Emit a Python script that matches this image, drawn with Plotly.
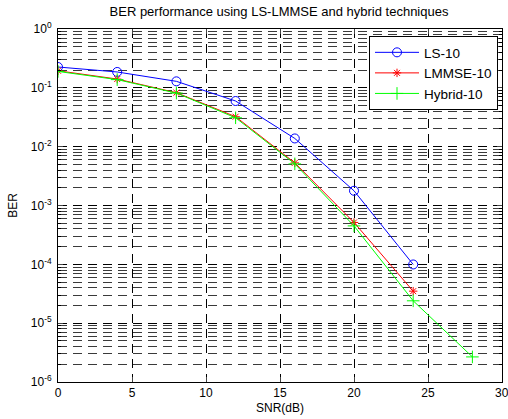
import plotly.graph_objects as go

# SNR points (dB)
snr_ls = [0, 4, 8, 12, 16, 20, 24]
snr_lmmse = [0, 4, 8, 12, 16, 20, 24]
snr_hybrid = [0, 4, 8, 12, 16, 20, 24, 28]

# Bit error rates
ber_ls = [0.226, 0.186, 0.129, 0.0597, 0.0138, 0.00178, 9.95e-5]
ber_lmmse = [0.195, 0.141, 0.0826, 0.0323, 0.0053, 5.15e-4, 3.5e-5]
ber_hybrid = [0.190, 0.138, 0.0815, 0.0310, 0.0051, 4.5e-4, 2.4e-5, 2.67e-6]

# Axis ticks
x_ticks = [0, 5, 10, 15, 20, 25, 30]
x_ticktext = [str(v) for v in x_ticks]
y_exponents = [0, -1, -2, -3, -4, -5, -6]
y_ticks = [10.0 ** e for e in y_exponents]
y_ticktext = ["10<sup>%d</sup>" % e for e in y_exponents]
y_minor = [m * 10.0 ** e for e in range(-6, 0) for m in range(2, 10)]

FONT = "Liberation Sans, Arial, Helvetica, sans-serif"
DASH = "9px,6px"

fig = go.Figure()
fig.add_trace(go.Scatter(
    x=snr_ls, y=ber_ls, name="LS-10", mode="lines+markers",
    line=dict(color="#0000ff", width=1),
    marker=dict(symbol="circle-open", size=9, color="#0000ff", line=dict(width=1)),
))
fig.add_trace(go.Scatter(
    x=snr_lmmse, y=ber_lmmse, name="LMMSE-10", mode="lines+markers",
    line=dict(color="#ff0000", width=1),
    marker=dict(symbol="asterisk-open", size=7, color="#ff0000", line=dict(width=1)),
))
fig.add_trace(go.Scatter(
    x=snr_hybrid, y=ber_hybrid, name="Hybrid-10", mode="lines+markers",
    line=dict(color="#00ff00", width=1),
    marker=dict(symbol="cross-thin-open", size=9, color="#00ff00", line=dict(width=1)),
))

# The last x tick label sits on the figure edge; place it as a free label so it
# is not hidden by the axis overflow rule.
last_x_label = dict(
    x=x_ticks[-1], xref="x", y=0, yref="paper", yshift=-11,
    text=x_ticktext[-1], showarrow=False, xanchor="center", yanchor="middle",
    font=dict(family=FONT, size=12, color="black"),
)

fig.update_layout(
    width=508, height=419,
    margin=dict(l=58, r=6, t=29, b=37),
    paper_bgcolor="white", plot_bgcolor="white",
    font=dict(family=FONT, size=12, color="black"),
    title=dict(text="BER performance using LS-LMMSE and hybrid techniques",
               x=279 / 508, xanchor="center",
               y=1 - 11 / 419, yanchor="middle",
               font=dict(size=13, family=FONT, color="black")),
    showlegend=True,
    legend=dict(x=0.991, y=0.980, xanchor="right", yanchor="top",
                bgcolor="white", bordercolor="black", borderwidth=1,
                font=dict(size=13.5, family=FONT, color="black"),
                itemwidth=44, tracegroupgap=0),
    annotations=[last_x_label],
    xaxis=dict(
        range=[0, 30], tickvals=x_ticks[:-1], ticktext=x_ticktext[:-1],
        ticks="inside", ticklen=5,
        showline=True, linecolor="black", linewidth=1, mirror="ticks",
        showgrid=True, gridcolor="black", gridwidth=1, griddash=DASH,
        zeroline=False, tickfont=dict(size=12),
        title=dict(text="SNR(dB)", standoff=4, font=dict(size=12)),
    ),
    yaxis=dict(
        type="log", range=[-6, 0], tickvals=y_ticks, ticktext=y_ticktext,
        ticks="inside", ticklen=5, ticklabelstandoff=3,
        showline=True, linecolor="black", linewidth=1, mirror="ticks",
        showgrid=True, gridcolor="black", gridwidth=1, griddash=DASH,
        zeroline=False, tickfont=dict(size=12),
        title=dict(text="BER", standoff=10, font=dict(size=12)),
        minor=dict(tickvals=y_minor, ticks="inside", ticklen=3, tickcolor="black",
                   showgrid=True, gridcolor="#3a3a3a", gridwidth=1, griddash=DASH),
    ),
)

fig.write_html("out.html")
